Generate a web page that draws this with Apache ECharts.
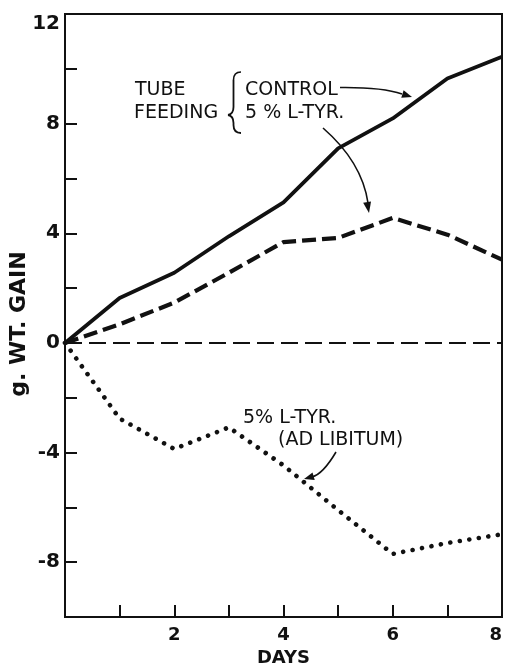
<!DOCTYPE html>
<html>
<head>
<meta charset="utf-8">
<title>Weight gain with tube feeding and L-tyrosine</title>
<script src="https://cdn.jsdelivr.net/npm/echarts@6/dist/echarts.min.js"></script>
<style>
  html, body { margin: 0; padding: 0; background: #fff; }
  #chart { width: 506px; height: 667px; }
</style>
</head>
<body>
<div id="chart"></div>
<script>
// Days of the experiment
const days = [0, 1, 2, 3, 4, 5, 6, 7, 8];
// Tube feeding, control diet (g gained)
const controlGain = [0, 1.64, 2.56, 3.89, 5.13, 7.1, 8.19, 9.65, 10.44];
// Tube feeding, 5% L-tyrosine diet
const tubeTyrGain = [0, 0.68, 1.47, 2.56, 3.68, 3.83, 4.56, 3.95, 3.04];
// 5% L-tyrosine diet fed ad libitum
const adLibTyrGain = [0, -2.76, -3.87, -3.08, -4.47, -6.1, -7.7, -7.3, -6.98];

// Labelled ticks
const xTickLabels = [2, 4, 6, 8];
const yTickLabels = [12, 8, 4, 0, -4, -8];

const INK = '#111';
const FONT = '"DejaVu Sans", "Liberation Sans", sans-serif';

const pairs = (ys) => days.map((d, i) => [d, ys[i]]);

// Filled arrow head: tip point and the point the shaft comes from
function arrowHead(tip, from, len, half) {
  const dx = tip[0] - from[0], dy = tip[1] - from[1];
  const n = Math.hypot(dx, dy);
  const ux = dx / n, uy = dy / n;
  const bx = tip[0] - ux * len, by = tip[1] - uy * len;
  return {
    type: 'polygon',
    shape: { points: [tip, [bx - uy * half, by + ux * half], [bx + uy * half, by - ux * half]] },
    style: { fill: INK }
  };
}
function curve(x1, y1, cx, cy, x2, y2, w) {
  return {
    type: 'bezierCurve',
    shape: { x1, y1, cpx1: cx, cpy1: cy, x2, y2 },
    style: { stroke: INK, lineWidth: w || 1.6, fill: null }
  };
}
function label(text, x, y, opts) {
  return Object.assign({
    type: 'text',
    x, y,
    style: Object.assign({
      text, fill: INK, font: '19px ' + FONT,
      textAlign: 'left', textVerticalAlign: 'middle'
    }, (opts && opts.style) || {})
  }, (opts && opts.el) || {});
}

const chart = echarts.init(document.getElementById('chart'), null, { renderer: 'canvas' });

const option = {
  backgroundColor: '#fff',
  animation: false,
  grid: {
    left: 65, right: 4, top: 14, bottom: 50,
    containLabel: false, outerBoundsMode: 'none',
    show: true, borderColor: INK, borderWidth: 2, backgroundColor: 'transparent'
  },
  xAxis: {
    type: 'value', min: 0, max: 8, interval: 1,
    name: 'DAYS', nameLocation: 'middle', nameGap: 30,
    nameTextStyle: { color: INK, fontFamily: FONT, fontWeight: 'bold', fontSize: 18 },
    axisLine: { show: true, onZero: false, lineStyle: { color: INK, width: 2 } },
    axisTick: { show: true, inside: true, length: 12, lineStyle: { color: INK, width: 2 } },
    splitLine: { show: false },
    axisLabel: {
      color: INK, fontFamily: FONT, fontWeight: 'bold', fontSize: 18, margin: 9,
      alignMaxLabel: 'right',
      formatter: (v) => xTickLabels.includes(v) ? String(v) : ''
    }
  },
  yAxis: {
    type: 'value', min: -10, max: 12, interval: 2,
    axisLine: { show: true, onZero: false, lineStyle: { color: INK, width: 2 } },
    axisTick: { show: true, inside: true, length: 12, lineStyle: { color: INK, width: 2 } },
    splitLine: { show: false },
    axisLabel: {
      color: INK, fontFamily: FONT, fontWeight: 'bold', fontSize: 20, margin: 5,
      formatter: (v) => {
        if (!yTickLabels.includes(v)) return '';
        return v === 12 ? '{top|' + v + '}' : String(v);
      },
      rich: {
        top: { color: INK, fontFamily: FONT, fontWeight: 'bold', fontSize: 20, padding: [20, 0, 0, 0] }
      }
    }
  },
  series: [
    {
      name: 'CONTROL', type: 'line', data: pairs(controlGain),
      showSymbol: false, symbol: 'none',
      lineStyle: { color: INK, width: 3.8, join: 'round' },
      markLine: {
        silent: true, symbol: ['none', 'none'], label: { show: false },
        lineStyle: { color: INK, width: 2, type: [17, 7] },
        data: [{ yAxis: 0 }]
      },
      z: 3
    },
    {
      name: '5% L-TYR. (tube)', type: 'line', data: pairs(tubeTyrGain),
      showSymbol: false, symbol: 'none',
      lineStyle: { color: INK, width: 4.2, type: [14, 6] },
      z: 3
    },
    {
      name: '5% L-TYR. (ad libitum)', type: 'line', data: pairs(adLibTyrGain),
      showSymbol: false, symbol: 'none',
      lineStyle: { color: INK, width: 4.6, type: [0.01, 9.6], cap: 'round' },
      z: 3
    }
  ],
  graphic: [
    label('TUBE', 135, 90),
    label('FEEDING', 134, 113),
    // brace grouping the two tube-fed diets
    curve(241, 72, 233.5, 72, 233.5, 80),
    { type: 'line', shape: { x1: 233.5, y1: 80, x2: 233.5, y2: 107 }, style: { stroke: INK, lineWidth: 1.8 } },
    curve(233.5, 107, 233.5, 114, 228, 115, 1.8),
    curve(228, 115, 233.5, 116, 233.5, 123, 1.8),
    { type: 'line', shape: { x1: 233.5, y1: 123, x2: 233.5, y2: 125 }, style: { stroke: INK, lineWidth: 1.8 } },
    curve(233.5, 125, 233.5, 133, 241, 133, 1.8),
    label('CONTROL', 245, 90),
    label('5 % L-TYR.', 245, 113),
    // arrow to the control curve
    curve(340, 87.5, 382, 87, 402, 94),
    arrowHead([412, 97], [396, 92], 10, 4),
    // arrow to the tube-fed tyrosine curve
    curve(323, 128, 362, 162, 368, 203),
    arrowHead([369, 213], [366, 196], 11, 4),
    // ad libitum label and arrow
    label('5% L-TYR.', 243, 418),
    label('(AD LIBITUM)', 278, 440),
    curve(336, 452, 323, 474, 312, 477),
    arrowHead([304, 479], [318, 475], 10, 4),
    // y-axis title
    {
      type: 'text', x: 19, y: 324, rotation: Math.PI / 2,
      style: {
        text: 'g. WT. GAIN', fill: INK, font: 'bold 22px ' + FONT,
        textAlign: 'center', textVerticalAlign: 'middle'
      }
    }
  ]
};

chart.setOption(option);
</script>
</body>
</html>
